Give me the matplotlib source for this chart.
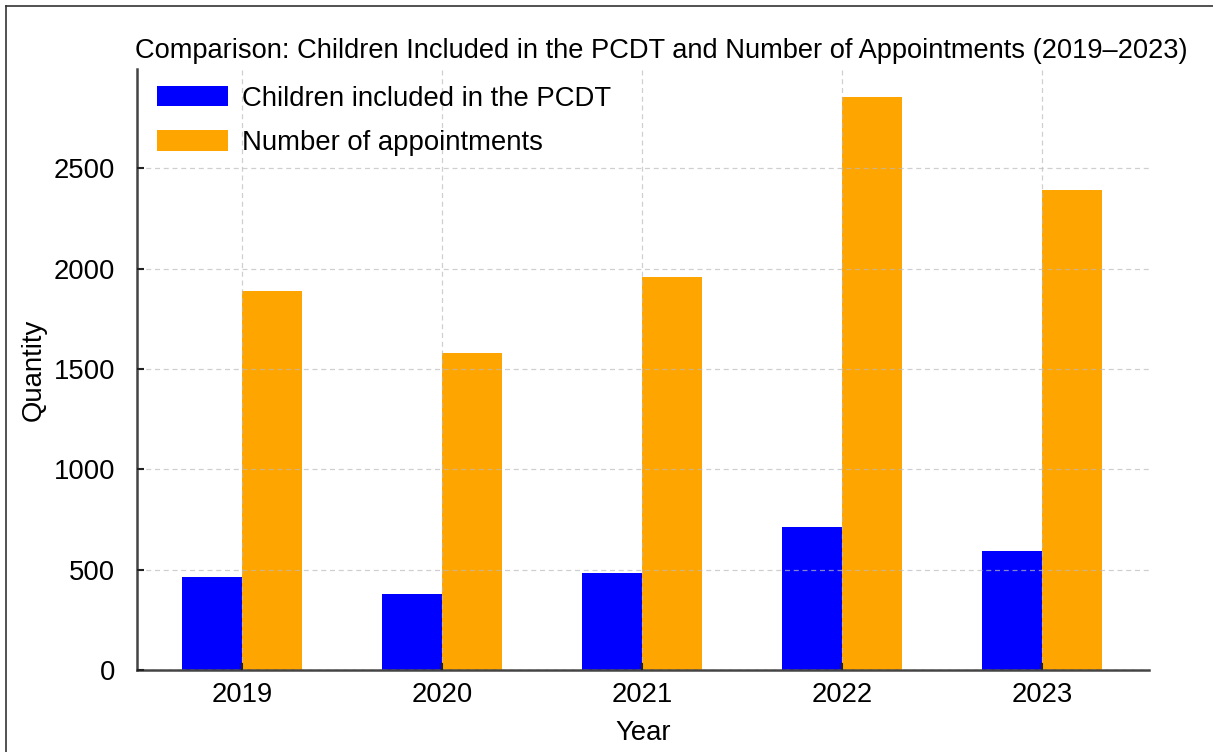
import matplotlib
matplotlib.use("Agg")
import matplotlib.pyplot as plt
import numpy as np
from matplotlib.lines import Line2D

plt.rcParams['font.family'] = ['Liberation Sans', 'DejaVu Sans']

years = ["2019", "2020", "2021", "2022", "2023"]
children_pcdt = [465, 378, 485, 712, 593]
appointments = [1888, 1581, 1960, 2855, 2392]

W, H = 1213, 752
FS = 19.8
fig = plt.figure(figsize=(W / 100, H / 100), dpi=100)

# outer frame along the top and left edges
fig.add_artist(Line2D([6 / W, 1.0], [1 - 6 / H, 1 - 6 / H], color="#333333", lw=1.2,
                      transform=fig.transFigure))
fig.add_artist(Line2D([6 / W, 6 / W], [0.0, 1 - 6 / H], color="#333333", lw=1.2,
                      transform=fig.transFigure))

left, right, top, bottom = 137, 1149, 69, 670
ax = fig.add_axes([left / W, 1 - bottom / H, (right - left) / W, (bottom - top) / H])

x = np.arange(len(years))
bw = 0.3
ax.bar(x - bw / 2, children_pcdt, bw, color="#0000ff", label="Children included in the PCDT", zorder=1)
ax.bar(x + bw / 2, appointments, bw, color="#ffa500", label="Number of appointments", zorder=1)

ax.set_xlim(-0.525, 4.535)
ax.set_ylim(0, 2995)
ax.set_xticks(x)
ax.set_xticklabels(years)
ax.set_yticks([0, 500, 1000, 1500, 2000, 2500])

ax.set_axisbelow(False)
ax.grid(True, linestyle=(0, (4, 3)), color="#bbbbbb", linewidth=0.9, alpha=0.7, zorder=2)

for s in ["top", "right"]:
    ax.spines[s].set_visible(False)
for s in ["left", "bottom"]:
    ax.spines[s].set_color("#444444")
    ax.spines[s].set_linewidth(1.8)

ax.tick_params(direction="in", length=5, width=1.5, color="#222222", labelsize=FS)
ax.tick_params(axis="y", pad=15.5)
ax.tick_params(axis="x", pad=8.5)

ax.set_xlabel("Year", fontsize=FS, labelpad=8.5)
ax.set_ylabel("Quantity", fontsize=FS, labelpad=5)
ax.set_title("Comparison: Children Included in the PCDT and Number of Appointments (2019\u20132023)",
             fontsize=19.6, pad=8, loc="left", x=-0.002)

ax.legend(loc="upper left", frameon=False, fontsize=FS, handlelength=2.6, handleheight=0.79,
          borderaxespad=0.2, labelspacing=0.69, handletextpad=0.5, bbox_to_anchor=(0.003, 1.0))

fig.savefig("out.png", dpi=100)
